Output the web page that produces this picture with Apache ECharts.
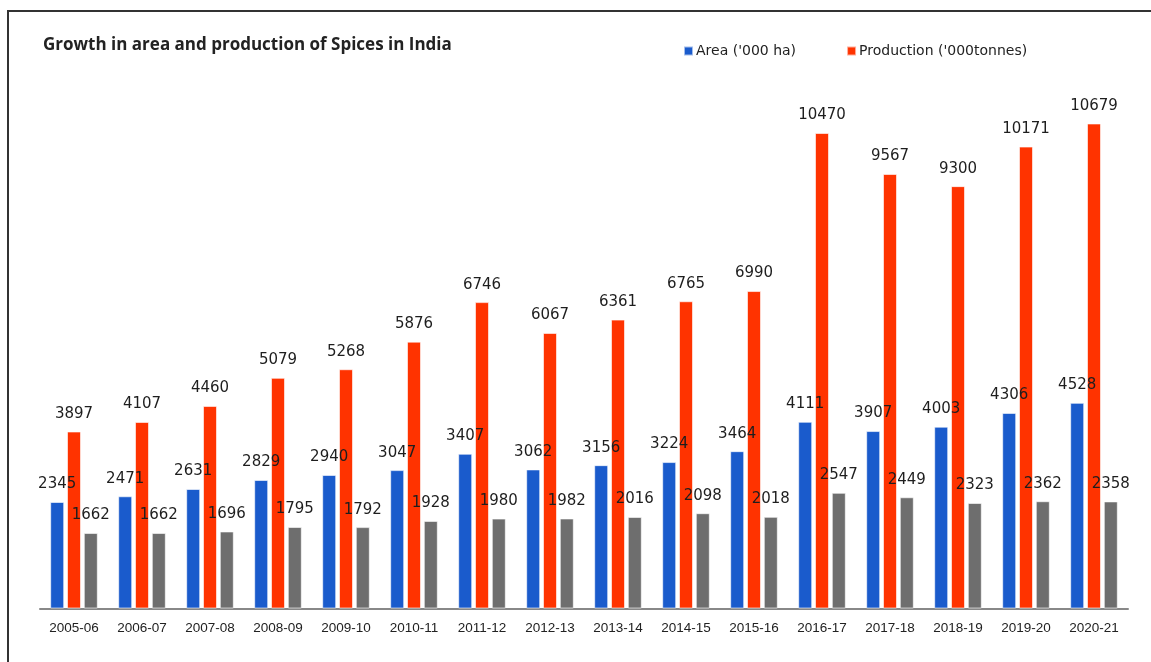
<!DOCTYPE html>
<html>
<head>
<meta charset="utf-8">
<script src="https://cdn.jsdelivr.net/npm/echarts@6/dist/echarts.min.js"></script>
<style>
    html,body{margin:0;padding:0;background:#fff;}
    #chart{width:1151px;height:662px;position:relative;}
    .frame{position:absolute;left:7px;top:10px;width:1160px;height:670px;border-left:2px solid #333;border-top:2px solid #333;pointer-events:none;}
</style>
</head>
<body>
<div id="chart"></div>
<div class="frame"></div>
<script>
let years = ['2005-06','2006-07','2007-08','2008-09','2009-10','2010-11','2011-12','2012-13','2013-14','2014-15','2015-16','2016-17','2017-18','2018-19','2019-20','2020-21'];
let areaData = [2345,2471,2631,2829,2940,3047,3407,3062,3156,3224,3464,4111,3907,4003,4306,4528];
let productionData = [3897,4107,4460,5079,5268,5876,6746,6067,6361,6765,6990,10470,9567,9300,10171,10679];
let yieldData = [1662,1662,1696,1795,1792,1928,1980,1982,2016,2098,2018,2547,2449,2323,2362,2358];

let chart = echarts.init(document.getElementById('chart'));
let labelStyle = {
    show:true,
    position:'top',
    distance:10,
    color:'#1e1e1e',
    fontSize:15,
    fontWeight:'normal',
    fontFamily:'DejaVu Sans'
};
function makeBar(name,data,color){
    return {
        name:name,
        type:'bar',
        data:data,
        barWidth:14,
        barGap:'20%',
        itemStyle:{
            color:color,
            borderColor:'rgba(255,255,255,0.6)',
            borderWidth:1
        },
        label:labelStyle,
        z:2
    }
}
let option = {
    animation:false,
    title:{
        text:'Growth in area and production of Spices in India',
        left:38,
        top:32,
        textStyle:{
            fontSize:17,
            fontWeight:'bold',
            color:'#222',
            fontFamily:'Open Sans'
        }
    },
    legend:{
        data:["Area ('000 ha)","Production ('000tonnes)"],
        left:678,
        top:39,
        itemWidth:9,
        itemHeight:9,
        itemGap:50,
        icon:'rect',
        textStyle:{
            fontSize:14,
            color:'#222',
            fontFamily:'DejaVu Sans',
            padding:[0,0,0,-2]
        }
    },
    grid:{
        left:40,
        right:23,
        top:63.5,
        bottom:53.5
    },
    xAxis:{
        type:'category',
        data:years,
        axisTick:{show:false},
        axisLine:{lineStyle:{color:'#888',width:2}},
        axisLabel:{
            color:'#222',
            fontSize:13.5,
            fontFamily:'Liberation Sans',
            margin:13
        }
    },
    yAxis:{
        type:'value',
        min:0,
        max:12000,
        show:false,
        splitLine:{show:false}
    },
    series:[
        makeBar("Area ('000 ha)",areaData,'#1a5bcc'),
        makeBar("Production ('000tonnes)",productionData,'#ff3300'),
        makeBar('Yield',yieldData,'#6e6e6e')
    ]
};
chart.setOption(option);
</script>
</body>
</html>
